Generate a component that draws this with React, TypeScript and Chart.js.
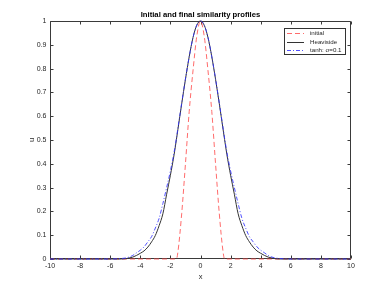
import React, { useEffect, useRef } from "react";
import { Chart, registerables } from "chart.js";

Chart.register(...registerables);

const TITLE = "Initial and final similarity profiles";
const X_LABEL = "x";
const Y_LABEL = "u";
const SERIES_LABELS = ["initial", "Heaviside", "tanh: \u03c3=0.1"];

const X_TICKS = [-10, -8, -6, -4, -2, 0, 2, 4, 6, 8, 10];
const Y_TICKS = [0, 0.1, 0.2, 0.3, 0.4, 0.5, 0.6, 0.7, 0.8, 0.9, 1];

const xs = [-10, -8, -6, -5.5, -5, -4.75, -4.5, -4.25, -4, -3.75, -3.5, -3.25, -3, -2.75, -2.5, -2.25, -2, -1.75, -1.6, -1.5, -1.25, -1, -0.75, -0.5, -0.25, 0, 0.25, 0.5, 0.75, 1, 1.25, 1.5, 1.6, 1.75, 2, 2.25, 2.5, 2.75, 3, 3.25, 3.5, 3.75, 4, 4.25, 4.5, 4.75, 5, 5.5, 6, 8, 10];

const initialU = [0, 0, 0, 0, 0, 0, 0, 0, 0, 0, 0, 0, 0, 0, 0, 0, 0, 0, 0, 0.03, 0.19, 0.4, 0.62, 0.79, 0.935, 1, 0.935, 0.79, 0.62, 0.4, 0.19, 0.03, 0, 0, 0, 0, 0, 0, 0, 0, 0, 0, 0, 0, 0, 0, 0, 0, 0, 0, 0];

const heavisideU = [0, 0, 0, 0, 0.001, 0.004, 0.008, 0.015, 0.024, 0.034, 0.05, 0.072, 0.099, 0.14, 0.19, 0.272, 0.352, 0.44, 0.502, 0.545, 0.652, 0.755, 0.85, 0.93, 0.982, 1, 0.982, 0.93, 0.85, 0.755, 0.652, 0.545, 0.502, 0.44, 0.352, 0.272, 0.19, 0.14, 0.099, 0.072, 0.05, 0.034, 0.024, 0.015, 0.008, 0.004, 0.001, 0, 0, 0, 0];

const tanhU = [0, 0, 0, 0.001, 0.004, 0.008, 0.015, 0.026, 0.037, 0.051, 0.072, 0.094, 0.13, 0.171, 0.233, 0.3, 0.37, 0.45, 0.508, 0.55, 0.655, 0.757, 0.85, 0.93, 0.982, 1, 0.982, 0.93, 0.85, 0.757, 0.655, 0.55, 0.508, 0.45, 0.37, 0.3, 0.233, 0.171, 0.13, 0.094, 0.072, 0.051, 0.037, 0.026, 0.015, 0.008, 0.004, 0.001, 0, 0, 0];

const FONT = "'Liberation Sans', Arial, Helvetica, sans-serif";
const AXIS_COLOR = "#3a3a3a";
const TEXT_COLOR = "#262626";

const framePlugin = {
  id: "frame",
  beforeDatasetsDraw(chart: any) {
    const { ctx, chartArea: a, scales } = chart;
    const L = Math.round(a.left) + 0.5;
    const R = Math.round(a.right) - 0.5;
    const T = Math.round(a.top) + 0.5;
    const B = Math.round(a.bottom) - 0.5;
    ctx.save();
    ctx.strokeStyle = AXIS_COLOR;
    ctx.lineWidth = 1;
    ctx.setLineDash([]);
    ctx.beginPath();
    ctx.rect(L, T, R - L, B - T);
    const tl = 3;
    X_TICKS.forEach((v) => {
      const px = Math.round(scales.x.getPixelForValue(v)) + 0.5;
      ctx.moveTo(px, B);
      ctx.lineTo(px, B - tl);
      ctx.moveTo(px, T);
      ctx.lineTo(px, T + tl);
    });
    Y_TICKS.forEach((v) => {
      const py = Math.round(scales.y.getPixelForValue(v)) + 0.5;
      ctx.moveTo(L, py);
      ctx.lineTo(L + tl, py);
      ctx.moveTo(R, py);
      ctx.lineTo(R - tl, py);
    });
    ctx.stroke();
    ctx.restore();
  },
  afterDraw(chart: any) {
    const { ctx, chartArea: a } = chart;
    ctx.save();
    // title
    ctx.fillStyle = "#000";
    ctx.font = `bold 7.7px ${FONT}`;
    ctx.textAlign = "center";
    ctx.textBaseline = "middle";
    ctx.fillText(TITLE, (a.left + a.right) / 2, 15);

    // legend
    const bx = a.right - 66.5;
    const by = a.top + 7.5;
    const bw = 61;
    const bh = 26;
    ctx.fillStyle = "#fff";
    ctx.fillRect(bx, by, bw, bh);
    ctx.strokeStyle = "#333";
    ctx.lineWidth = 1;
    ctx.strokeRect(bx, by, bw, bh);
    ctx.font = `6.2px ${FONT}`;
    ctx.textAlign = "left";
    ctx.textBaseline = "middle";
    chart.data.datasets.forEach((ds: any, i: number) => {
      const y = by + 4.8 + i * 8.2;
      ctx.strokeStyle = ds.borderColor;
      ctx.lineWidth = ds.borderWidth;
      ctx.setLineDash(ds.borderDash || []);
      ctx.beginPath();
      ctx.moveTo(bx + 2.5, Math.round(y) + 0.5);
      ctx.lineTo(bx + 19.5, Math.round(y) + 0.5);
      ctx.stroke();
      ctx.setLineDash([]);
      ctx.fillStyle = TEXT_COLOR;
      ctx.fillText(ds.label, bx + 25.5, y + 0.3);
    });
    ctx.restore();
  },
};

function toPoints(ys: number[]) {
  return xs.map((x, i) => ({ x, y: ys[i] }));
}

const fmt = (v: any) => String(parseFloat(Number(v).toFixed(3)));

export default function App() {
  const ref = useRef<HTMLCanvasElement | null>(null);
  useEffect(() => {
    if (!ref.current) return;
    const chart = new Chart(ref.current, {
      type: "line",
      data: {
        datasets: [
          {
            label: SERIES_LABELS[0],
            data: toPoints(initialU),
            borderColor: "rgba(255,70,70,0.8)",
            borderWidth: 1,
            borderDash: [5, 3],
            pointRadius: 0,
            cubicInterpolationMode: "monotone",
            clip: 1,
            order: 3,
          },
          {
            label: SERIES_LABELS[1],
            data: toPoints(heavisideU),
            borderColor: "#333333",
            borderWidth: 1,
            borderDash: [],
            pointRadius: 0,
            cubicInterpolationMode: "monotone",
            clip: 1,
            order: 2,
          },
          {
            label: SERIES_LABELS[2],
            data: toPoints(tanhU),
            borderColor: "rgba(50,50,255,0.85)",
            borderWidth: 1,
            borderDash: [4, 2, 1, 2],
            pointRadius: 0,
            cubicInterpolationMode: "monotone",
            clip: 1,
            order: 1,
          },
        ],
      },
      options: {
        animation: false,
        responsive: false,
        devicePixelRatio: 1,
        layout: { padding: { top: 21, right: 37, left: 0, bottom: 0 } },
        plugins: {
          legend: { display: false },
          title: { display: false },
          tooltip: { enabled: false },
        },
        scales: {
          x: {
            type: "linear",
            min: -10,
            max: 10,
            afterFit: (s: any) => {
              s.height = 32;
            },
            afterBuildTicks: (s: any) => {
              s.ticks = X_TICKS.map((v) => ({ value: v }));
            },
            ticks: {
              color: TEXT_COLOR,
              font: { family: FONT, size: 7 },
              padding: 3,
              maxRotation: 0,
              autoSkip: false,
              callback: fmt,
            },
            grid: { display: false, drawTicks: false },
            border: { display: false },
            title: {
              display: true,
              text: X_LABEL,
              color: TEXT_COLOR,
              font: { family: FONT, size: 7.5 },
              padding: { top: 0, bottom: 9.5 },
            },
          },
          y: {
            type: "linear",
            min: 0,
            max: 1,
            afterFit: (s: any) => {
              s.width = 50;
            },
            afterBuildTicks: (s: any) => {
              s.ticks = Y_TICKS.map((v) => ({ value: v }));
            },
            ticks: {
              color: TEXT_COLOR,
              font: { family: FONT, size: 7 },
              padding: 3.5,
              autoSkip: false,
              callback: fmt,
            },
            grid: { display: false, drawTicks: false },
            border: { display: false },
            title: {
              display: true,
              text: Y_LABEL,
              color: TEXT_COLOR,
              font: { family: FONT, size: 7.5 },
              padding: { top: 27.5, bottom: 0 },
            },
          },
        },
      },
      plugins: [framePlugin],
    } as any);
    return () => chart.destroy();
  }, []);
  return (
    <div style={{ position: "absolute", left: 0, top: 0, width: 388, height: 291, background: "#fff" }}>
      <canvas ref={ref} width={388} height={291} style={{ display: "block" }} />
    </div>
  );
}
